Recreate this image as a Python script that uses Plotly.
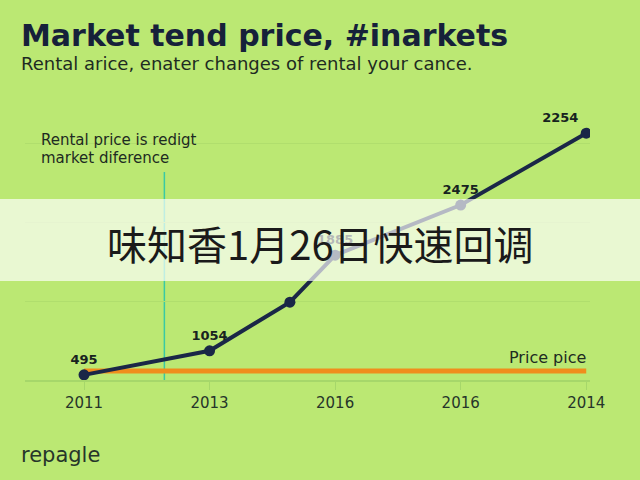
import plotly.graph_objects as go

# ---------------- data ----------------
tick_labels = ["2011", "2013", "2016", "2016", "2014"]
tick_pos = [0, 1, 2, 3, 4]
series_x = [0, 1, 1.64, 2, 3, 4]
series_y = [65, 370, 985, 1580, 2215, 3125]
point_labels = ["495", "1054", "", "1885", "2475", "2254"]
price_level = 115
marker_x = 0.64
marker_top = 2633

title = "Market tend price, #inarkets"
subtitle = "Rental arice, enater changes of rental your cance."
note_lines = ["Rental price is redigt", "market diference"]
price_label = "Price pice"
source = "repagle"
overlay_text = "味知香1月26日快速回调"

# ---------------- layout helpers ----------------
W, H = 640, 480
ML, MR, MT, MB = 25, 50, 110, 100
PW, PH = W - ML - MR, H - MT - MB


def px(xp):
    return (xp - ML) / PW


def py(yp):
    return (H - MB - yp) / PH


BG = "#bbe873"
NAVY = "#1a2747"
TEXT = "#1e2b22"
FONT = "DejaVu Sans"

fig = go.Figure()

fig.add_trace(go.Scatter(
    x=[tick_pos[0], tick_pos[-1]], y=[price_level, price_level],
    mode="lines", line=dict(color="#f08d1c", width=5),
    hoverinfo="skip", showlegend=False))

label_pos = ["top center", "top center", "top center", "top center", "top center", "top left"]
fig.add_trace(go.Scatter(
    x=series_x, y=series_y, mode="lines+markers+text",
    text=point_labels, textposition=label_pos,
    textfont=dict(family=FONT, size=13, color="#17231f", weight="bold"),
    line=dict(color=NAVY, width=4),
    marker=dict(color=NAVY, size=11),
    showlegend=False))

# price label
fig.add_annotation(x=tick_pos[-1], y=price_level, text=price_label, showarrow=False,
                   xanchor="right", yanchor="bottom", yshift=2, xshift=2,
                   font=dict(family=FONT, size=16, color="#1e2b22"))

# vertical teal line
fig.add_shape(type="line", x0=marker_x, x1=marker_x, y0=0, y1=marker_top,
              line=dict(color="#39c9a4", width=1.5), layer="below")

# title / subtitle / note / source
fig.add_annotation(xref="paper", yref="paper", x=px(19), y=py(36), text=title,
                   xanchor="left", yanchor="middle", showarrow=False,
                   font=dict(family=FONT, size=30, color="#16213a", weight="bold"))
fig.add_annotation(xref="paper", yref="paper", x=px(19), y=py(63), text=subtitle,
                   xanchor="left", yanchor="middle", showarrow=False,
                   font=dict(family=FONT, size=18, color=TEXT))
for i, line in enumerate(note_lines):
    fig.add_annotation(xref="paper", yref="paper", x=px(39), y=py(140 + 18 * i), text=line,
                       xanchor="left", yanchor="middle", showarrow=False, align="left",
                       font=dict(family=FONT, size=15, color=TEXT))
fig.add_annotation(xref="paper", yref="paper", x=px(19), y=py(455), text=source,
                   xanchor="left", yanchor="middle", showarrow=False,
                   font=dict(family=FONT, size=21, color="#26352a"))

# overlay band + text
fig.add_shape(type="rect", xref="paper", yref="paper",
              x0=px(0), x1=px(W), y0=py(281), y1=py(199),
              fillcolor="rgba(255,255,255,0.68)", line=dict(width=0), layer="above")
fig.add_annotation(xref="paper", yref="paper", x=px(320), y=py(243), text=overlay_text,
                   xanchor="center", yanchor="middle", showarrow=False,
                   font=dict(family="Noto Sans CJK SC", size=40, color="#1a1a1a"))

fig.update_layout(
    width=W, height=H,
    margin=dict(l=ML, r=MR, t=MT, b=MB),
    paper_bgcolor=BG, plot_bgcolor=BG,
    xaxis=dict(range=[-0.47, 4.03], tickvals=tick_pos, ticktext=tick_labels,
               showgrid=False, zeroline=False, showline=True, linecolor="#a6d76a",
               linewidth=1.5, ticks="outside", ticklen=8, tickcolor="#a6d76a",
               tickfont=dict(family=FONT, size=15, color="#26352a")),
    yaxis=dict(range=[0, 3418], tickvals=[0, 1000, 2000, 3000], showticklabels=False,
               showgrid=True, gridcolor="#b0de6d", gridwidth=1, zeroline=False),
)

fig.write_html("out.html", config={"displayModeBar": False},
               post_script="document.body.style.margin='0';document.body.style.overflow='hidden';")
